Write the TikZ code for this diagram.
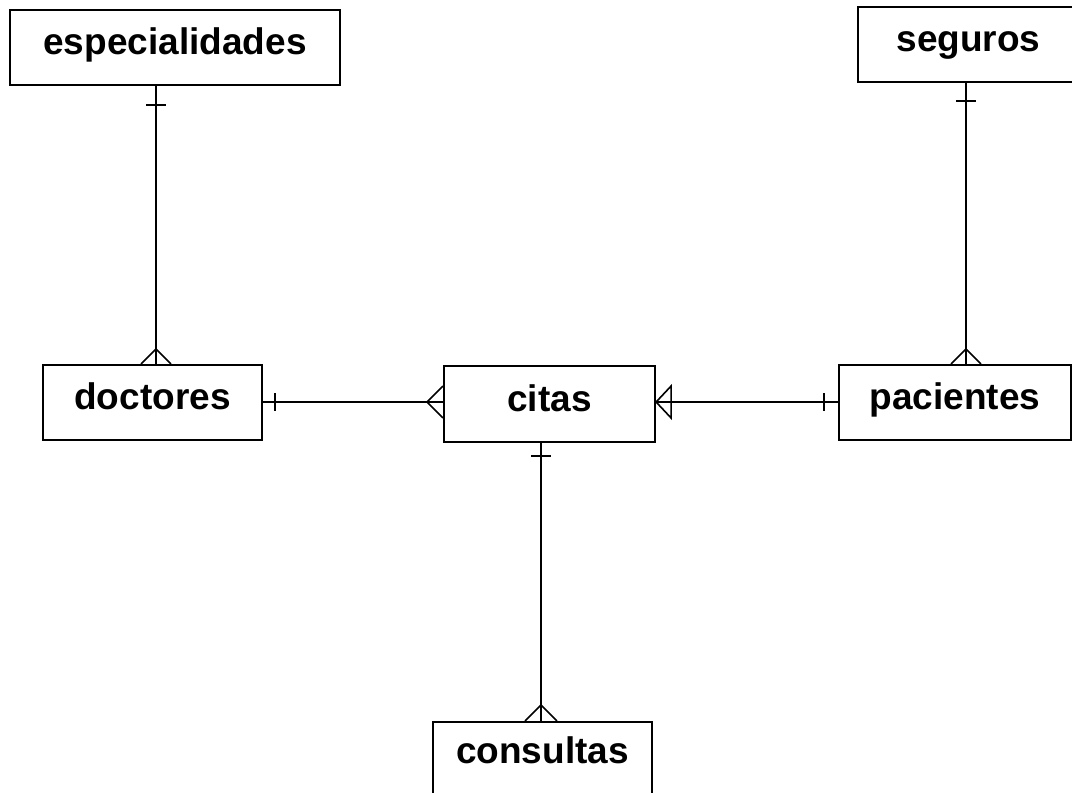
\documentclass[tikz,border=0pt]{standalone}
\usepackage{fontspec}
\setmainfont{Liberation Sans}
\usetikzlibrary{calc}
\begin{document}
\begin{tikzpicture}[x=1pt,y=-1pt,
  ent/.style={draw, line width=2.2pt, font=\bfseries\fontsize{37}{37}\selectfont,
    text height=26.6pt, text depth=11.8pt, inner sep=0pt, minimum height=75},
  rel/.style={line width=1.6pt}]
\useasboundingbox (0,0) rectangle (1072,793);
\node[ent, minimum width=330] (esp) at (175,47.5) {especialidades};
\node[ent, minimum width=221] (seg) at (968.5,44.5) {seguros};
\node[ent, minimum width=219] (doc) at (152.5,402.5) {doctores};
\node[ent, minimum width=211, minimum height=76] (cit) at (549.5,404) {citas};
\node[ent, minimum width=232] (pac) at (955,402.5) {pacientes};
\node[ent, minimum width=219, text depth=19.6pt] (con) at (542.5,759.5) {consultas};
\coordinate (xA) at (156,0);
\coordinate (xB) at (966,0);
\coordinate (xC) at (541,0);
\coordinate (yD) at (0,402);
% especialidades - doctores
\draw[rel] (esp.south -| xA) -- (doc.north -| xA);
\draw[rel] ($(esp.south -| xA)+(-10,19)$) -- ($(esp.south -| xA)+(10,19)$);
\draw[rel] ($(doc.north -| xA)+(-15,0)$) -- ($(doc.north -| xA)+(0,-15)$) -- ($(doc.north -| xA)+(15,0)$);
% seguros - pacientes
\draw[rel] (seg.south -| xB) -- (pac.north -| xB);
\draw[rel] ($(seg.south -| xB)+(-10,18)$) -- ($(seg.south -| xB)+(10,18)$);
\draw[rel] ($(pac.north -| xB)+(-15,0)$) -- ($(pac.north -| xB)+(0,-15)$) -- ($(pac.north -| xB)+(15,0)$);
% doctores - citas
\draw[rel] (doc.east |- yD) -- (cit.west |- yD);
\draw[rel] ($(doc.east |- yD)+(12,-9)$) -- ($(doc.east |- yD)+(12,9)$);
\draw[rel] ($(cit.west |- yD)+(0,-16)$) -- ($(cit.west |- yD)+(-16,0)$) -- ($(cit.west |- yD)+(0,16)$);
% pacientes - citas
\draw[rel] (pac.west |- yD) -- (cit.east |- yD);
\draw[rel] ($(pac.west |- yD)+(-14,-9)$) -- ($(pac.west |- yD)+(-14,9)$);
\draw[rel] ($(cit.east |- yD)+(15,-16)$) -- (cit.east |- yD) -- ($(cit.east |- yD)+(15,16)$) -- cycle;
% citas - consultas
\draw[rel] (cit.south -| xC) -- (con.north -| xC);
\draw[rel] ($(cit.south -| xC)+(-10,13)$) -- ($(cit.south -| xC)+(10,13)$);
\draw[rel] ($(con.north -| xC)+(-16,0)$) -- ($(con.north -| xC)+(0,-16)$) -- ($(con.north -| xC)+(16,0)$);
\end{tikzpicture}
\end{document}
